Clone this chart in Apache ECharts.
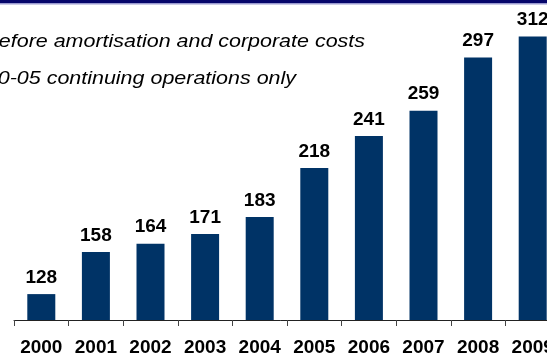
<!DOCTYPE html>
<html>
<head>
<meta charset="utf-8">
<script src="https://cdn.jsdelivr.net/npm/echarts@6/dist/echarts.min.js"></script>
<style>
  html, body { margin: 0; padding: 0; background: #ffffff; }
  #chart { width: 547px; height: 358px; }
</style>
</head>
<body>
<div id="chart"></div>
<script>
// Years shown along the axis
const years = ['2000', '2001', '2002', '2003', '2004', '2005', '2006', '2007', '2008', '2009'];
// Profit values per year
const profit = [128, 158, 164, 171, 183, 218, 241, 259, 297, 312];
// Footnote lines
const notes = ['Before amortisation and corporate costs', '2000-05 continuing operations only'];

const FONT = '"Liberation Sans", Arial, sans-serif';
const NAVY = '#003366';

const chart = echarts.init(document.getElementById('chart'), null, { renderer: 'canvas' });

chart.setOption({
  animation: false,
  backgroundColor: '#ffffff',
  grid: {
    left: 14, top: 12, width: 546, height: 308,
    containLabel: false,
    outerBoundsMode: 'none'
  },
  xAxis: {
    type: 'category',
    data: years,
    boundaryGap: true,
    axisLine: { show: true, lineStyle: { color: '#222222', width: 1 } },
    axisTick: { show: true, length: 6, lineStyle: { color: '#444444', width: 1 } },
    axisLabel: {
      margin: 18,
      color: '#000000',
      fontFamily: FONT,
      fontWeight: 'bold',
      fontSize: 19,
      interval: 0
    }
  },
  yAxis: {
    type: 'value',
    min: 109.5,
    max: 329.5,
    show: false,
    splitLine: { show: false }
  },
  series: [{
    type: 'bar',
    data: profit,
    barWidth: 28,
    itemStyle: { color: NAVY },
    label: {
      show: true,
      position: 'top',
      distance: 7,
      color: '#000000',
      fontFamily: FONT,
      fontWeight: 'bold',
      fontSize: 19
    }
  }],
  graphic: [
    // header band
    { type: 'rect', left: 0, top: 0, z: 10, shape: { x: 0, y: 0, width: 547, height: 3 }, style: { fill: '#06066b' } },
    { type: 'rect', left: 0, top: 3, z: 10, shape: { x: 0, y: 0, width: 547, height: 1.5 }, style: { fill: '#9a9ad0' } },
    // footnotes
    {
      type: 'text', x: 365, y: 42, scaleX: 1.16,
      style: { text: notes[0], font: 'italic 18.5px ' + FONT, fill: '#000000', align: 'right', verticalAlign: 'middle' }
    },
    {
      type: 'text', x: 296, y: 79, scaleX: 1.16,
      style: { text: notes[1], font: 'italic 18.5px ' + FONT, fill: '#000000', align: 'right', verticalAlign: 'middle' }
    }
  ]
});
</script>
</body>
</html>
